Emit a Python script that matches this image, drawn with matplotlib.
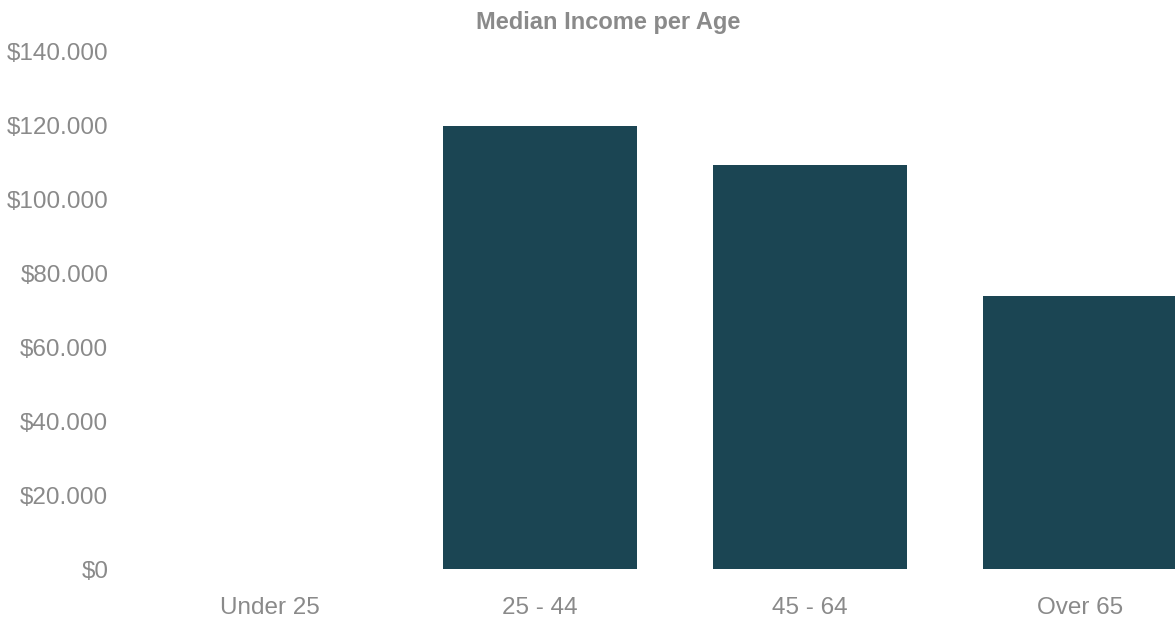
import matplotlib
matplotlib.use("Agg")
import matplotlib.pyplot as plt
from matplotlib.ticker import FuncFormatter

categories = ["Under 25", "25 - 44", "45 - 64", "Over 65"]
values = [0, 120000, 109500, 74000]
yticks = [0, 20000, 40000, 60000, 80000, 100000, 120000, 140000]
title = "Median Income per Age"

plt.rcParams['font.family'] = ['Liberation Sans', 'DejaVu Sans']
fig = plt.figure(figsize=(11.75, 6.2), dpi=100)
ax = fig.add_axes([150/1175, 51/620, 1 - 150/1175, 517/620])
ax.bar(range(len(categories)), values, width=0.72, color="#1b4553")
ax.set_xlim(-0.444, 3.352)
ax.set_ylim(0, 140000)
ax.set_yticks(yticks)
ax.yaxis.set_major_formatter(FuncFormatter(lambda v, p: "$" + f"{int(v):,}".replace(",", ".")))
ax.set_xticks(range(len(categories)))
ax.set_xticklabels(categories)
for s in ax.spines.values():
    s.set_visible(False)
ax.tick_params(axis='y', length=0, pad=30, labelsize=17.5, labelcolor="#8a8a8a")
ax.tick_params(axis='x', length=0, pad=20, labelsize=17.5, labelcolor="#8a8a8a")
fig.text(608/1175, 1 - 22/620, title, ha='center', va='center', fontsize=17,
         fontweight='bold', color="#8a8a8a")
fig.savefig("out.png", dpi=100)
